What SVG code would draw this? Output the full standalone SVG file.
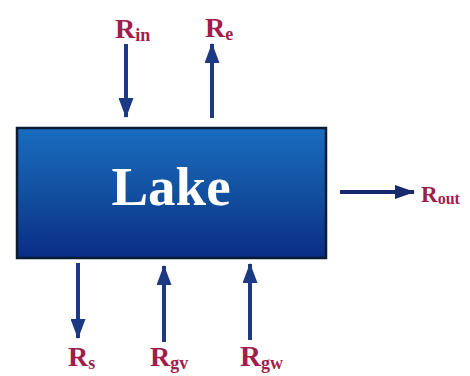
<svg xmlns="http://www.w3.org/2000/svg" width="470" height="376" viewBox="0 0 470 376">
<defs>
<linearGradient id="lakeGrad" x1="0" y1="0" x2="0" y2="1">
<stop offset="0" stop-color="#1a6cc0"/>
<stop offset="0.5" stop-color="#12509f"/>
<stop offset="1" stop-color="#0a2c86"/>
</linearGradient>
<marker id="ah" viewBox="0 0 20 15" refX="19" refY="7.5" markerWidth="20" markerHeight="15" orient="auto" markerUnits="userSpaceOnUse">
<path d="M0,0 L20,7.5 L0,15 Z" fill="#1c3a84"/>
</marker>
<marker id="ah2" viewBox="0 0 20 14" refX="19" refY="7" markerWidth="20" markerHeight="14" orient="auto" markerUnits="userSpaceOnUse">
<path d="M0,0 L20,7 L0,14 Z" fill="#16286e"/>
</marker>
</defs>
<style>
.lbl{font-family:"Liberation Serif","Times New Roman",serif;font-weight:bold;fill:#a01e4c}
.sub{font-size:18px}
.arr{stroke:#1c3a84;stroke-width:4;fill:none;marker-end:url(#ah)}
</style>
<rect width="470" height="376" fill="#ffffff"/>
<g id="lake">
<rect x="17" y="128" width="309" height="130" fill="url(#lakeGrad)" stroke="#0b1a35" stroke-width="2.5"/>
<text x="171" y="205" text-anchor="middle" font-family="Liberation Serif, Times New Roman, serif" font-weight="bold" font-size="55" fill="#ffffff">Lake</text>
</g>
<g id="connectors">
<line class="arr" x1="126" y1="44" x2="126" y2="117"/>
<line class="arr" x1="212" y1="118" x2="212" y2="44"/>
<line x1="340" y1="192" x2="414" y2="192" stroke="#16286e" stroke-width="4" marker-end="url(#ah2)"/>
<line class="arr" x1="78" y1="263" x2="78" y2="338"/>
<line class="arr" x1="164" y1="342" x2="164" y2="266"/>
<line class="arr" x1="250" y1="340" x2="250" y2="264"/>
</g>
<g id="R_in"><text class="lbl" x="115" y="38" font-size="28">R<tspan class="sub" dy="3">in</tspan></text></g>
<g id="R_e"><text class="lbl" x="205" y="37" font-size="28">R<tspan class="sub" dy="3">e</tspan></text></g>
<g id="R_out"><text class="lbl" x="421" y="202" font-size="23">R<tspan font-size="16" dy="2">out</tspan></text></g>
<g id="R_s"><text class="lbl" x="68" y="366" font-size="28">R<tspan class="sub" dy="3">s</tspan></text></g>
<g id="R_gv"><text class="lbl" x="150" y="366" font-size="28">R<tspan class="sub" dy="3">gv</tspan></text></g>
<g id="R_gw"><text class="lbl" x="240" y="366" font-size="29">R<tspan class="sub" dy="3">gw</tspan></text></g>
</svg>
